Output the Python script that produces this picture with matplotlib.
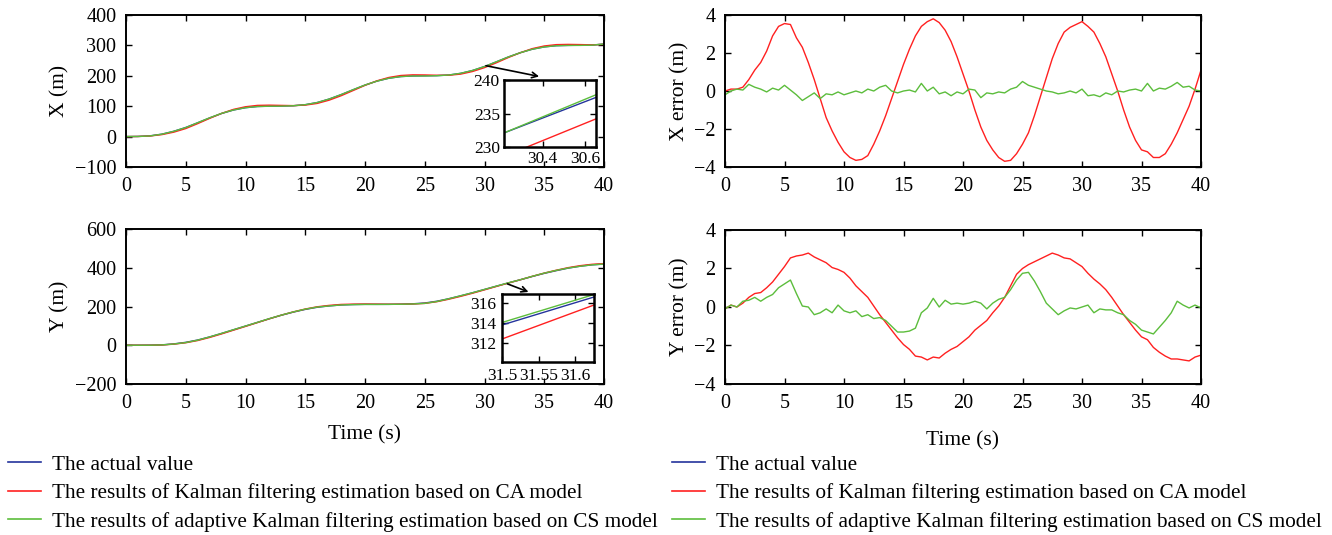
import numpy as np
import matplotlib.pyplot as plt

plt.rcParams['font.family'] = ['Liberation Serif', 'DejaVu Serif']

# time grids (s)
t1 = np.arange(0, 41, 1.0)
t05 = np.arange(0, 40.5, 0.5)

# actual trajectory, read at 1 s steps
x_actual = [0, 0.5, 2.5, 8, 17.5, 30, 45.5, 61.5, 76, 87.5, 95, 99, 100, 100.5,
            101.5, 105, 112, 123.5, 138, 154, 169.5, 182.5, 192, 197.5, 199.5,
            200, 200.5, 202.5, 208, 217.5, 230.5, 246, 262, 276, 287.5, 295,
            299, 300, 300.5, 301, 304.5]
y_actual = [0, 0, 0.5, 2, 7, 15, 27, 43, 61, 80, 99, 118, 137, 155, 171, 185,
            196, 203, 208, 210, 211, 211, 211, 212, 214, 218, 227, 240, 255,
            271, 288, 305, 322, 338, 355, 371, 385, 398, 408, 415, 419]

# estimation errors (actual - estimate), read at 0.5 s steps
x_err_ca = [0.0, 0.1, 0.1, 0.2, 0.6, 1.1, 1.5, 2.1, 2.9, 3.4, 3.55, 3.5, 2.8,
            2.3, 1.5, 0.6, -0.4, -1.4, -2.1, -2.7, -3.2, -3.5, -3.65, -3.6,
            -3.4, -2.8, -2.1, -1.3, -0.4, 0.5, 1.4, 2.2, 2.9, 3.4, 3.65, 3.8,
            3.6, 3.2, 2.6, 1.8, 0.9, 0.0, -1.0, -1.9, -2.6, -3.1, -3.5, -3.7,
            -3.65, -3.3, -2.8, -2.2, -1.3, -0.3, 0.7, 1.7, 2.5, 3.1, 3.35, 3.5,
            3.65, 3.4, 3.1, 2.5, 1.8, 0.9, 0.0, -1.0, -1.9, -2.6, -3.1, -3.2,
            -3.5, -3.5, -3.3, -2.8, -2.2, -1.5, -0.8, 0.1, 1.1]
x_err_cs = [-0.2, 0.0, 0.1, 0.05, 0.35, 0.2, 0.1, -0.05, 0.15, 0.05, 0.3, 0.05,
            -0.2, -0.5, -0.3, -0.1, -0.4, -0.15, -0.2, -0.05, -0.2, -0.1, 0.0,
            -0.1, 0.1, 0.0, 0.2, 0.3, 0.0, -0.1, 0.0, 0.05, -0.05, 0.4, 0.0,
            0.2, -0.15, -0.05, -0.25, -0.05, -0.15, 0.1, 0.05, -0.35, -0.1,
            -0.15, -0.05, -0.1, 0.1, 0.2, 0.5, 0.3, 0.2, 0.1, 0.0, -0.05,
            -0.15, -0.1, 0.0, -0.1, 0.1, -0.25, -0.2, -0.3, -0.1, -0.2, 0.0,
            -0.05, 0.05, 0.1, 0.0, 0.4, 0.0, 0.15, 0.1, 0.25, 0.45, 0.2, 0.25,
            0.05, 0.0]
y_err_ca = [-0.1, 0.1, 0.0, 0.2, 0.5, 0.7, 0.75, 1.0, 1.3, 1.7, 2.1, 2.55, 2.65,
            2.7, 2.8, 2.6, 2.45, 2.3, 2.05, 1.95, 1.8, 1.5, 1.1, 0.8, 0.5, 0.05,
            -0.4, -0.8, -1.2, -1.6, -1.95, -2.2, -2.55, -2.6, -2.75, -2.6,
            -2.65, -2.4, -2.2, -2.05, -1.8, -1.55, -1.2, -0.95, -0.7, -0.3,
            0.05, 0.5, 1.1, 1.7, 2.0, 2.2, 2.35, 2.5, 2.65, 2.8, 2.7, 2.55,
            2.5, 2.3, 2.1, 1.75, 1.45, 1.2, 0.9, 0.5, 0.05, -0.4, -0.8, -1.2,
            -1.55, -1.7, -2.1, -2.35, -2.55, -2.7, -2.7, -2.75, -2.8, -2.6, -2.5]
y_err_cs = [-0.1, 0.1, 0.0, 0.3, 0.35, 0.5, 0.3, 0.5, 0.65, 1.0, 1.2, 1.4, 0.7,
            0.05, 0.0, -0.4, -0.3, -0.1, -0.3, 0.1, -0.2, -0.3, -0.2, -0.5,
            -0.4, -0.6, -0.55, -0.7, -1.0, -1.3, -1.3, -1.25, -1.1, -0.3, -0.05,
            0.45, 0.0, 0.35, 0.15, 0.2, 0.15, 0.2, 0.3, 0.2, -0.1, 0.2, 0.4,
            0.5, 0.9, 1.4, 1.75, 1.8, 1.35, 0.8, 0.2, -0.1, -0.4, -0.2, -0.05,
            -0.1, 0.0, 0.1, -0.3, -0.1, -0.15, -0.15, -0.3, -0.4, -0.7, -0.9,
            -1.2, -1.3, -1.4, -1.05, -0.7, -0.3, 0.3, 0.1, -0.05, 0.1, -0.05]

# zoomed-in insets
xin_t = [30.22, 30.65]
xin_actual = [232.1, 237.4]
xin_ca = [228.6, 234.2]
xin_cs = [232.1, 237.8]
yin_t = [31.5, 31.626]
yin_actual = [313.8, 316.6]
yin_ca = [312.4, 315.8]
yin_cs = [314.05, 316.85]

labels = ['The actual value',
          'The results of Kalman filtering estimation based on CA model',
          'The results of adaptive Kalman filtering estimation based on CS model']
c_blue, c_red, c_green = '#24349c', '#ff2020', '#5cbd3c'

# estimates = actual - error, on the 1 s grid
x_ca = np.array(x_actual) - np.array(x_err_ca)[::2]
x_cs = np.array(x_actual) - np.array(x_err_cs)[::2]
y_ca = np.array(y_actual) - np.array(y_err_ca)[::2]
y_cs = np.array(y_actual) - np.array(y_err_cs)[::2]

fig = plt.figure(figsize=(13.32, 5.35), dpi=100)
W, H = 1332., 535.


def add_ax(x0, y0, x1, y1):
    return fig.add_axes([x0 / W, 1 - y1 / H, (x1 - x0) / W, (y1 - y0) / H])


def style(ax, size=14.5, pad=7):
    ax.tick_params(direction='in', top=True, right=True, labelsize=size,
                   length=4, width=1, pad=pad)
    for s in ax.spines.values():
        s.set_linewidth(1.4)


ax1 = add_ax(126, 15, 604, 167)
ax2 = add_ax(126, 229, 604, 384)
ax3 = add_ax(725, 15, 1201, 167)
ax4 = add_ax(725, 230, 1201, 384)

lw = 1.0
ax1.plot(t1, x_actual, color=c_blue, lw=lw)
ax1.plot(t1, x_ca, color=c_red, lw=lw)
ax1.plot(t1, x_cs, color=c_green, lw=lw)
ax1.set_ylim(-100, 400)
ax1.set_yticks([-100, 0, 100, 200, 300, 400])
ax1.set_yticklabels(['\u2212100', '0', '100', '200', '300', '400'])
ax1.set_ylabel('X (m)', fontsize=15.5, labelpad=4)

ax2.plot(t1, y_actual, color=c_blue, lw=lw)
ax2.plot(t1, y_ca, color=c_red, lw=lw)
ax2.plot(t1, y_cs, color=c_green, lw=lw)
ax2.set_ylim(-200, 600)
ax2.set_yticks([-200, 0, 200, 400, 600])
ax2.set_yticklabels(['\u2212200', '0', '200', '400', '600'])
ax2.set_ylabel('Y (m)', fontsize=15.5, labelpad=4)

ax3.plot(t05, x_err_ca, color=c_red, lw=lw)
ax3.plot(t05, x_err_cs, color=c_green, lw=lw)
ax3.set_ylabel('X error (m)', fontsize=15.5, labelpad=3)

ax4.plot(t05, y_err_ca, color=c_red, lw=lw)
ax4.plot(t05, y_err_cs, color=c_green, lw=lw)
ax4.set_ylabel('Y error (m)', fontsize=15.5, labelpad=3)

for ax in (ax3, ax4):
    ax.set_ylim(-4, 4)
    ax.set_yticks([-4, -2, 0, 2, 4])
    ax.set_yticklabels(['\u22124', '\u22122', '0', '2', '4'])

for ax in (ax1, ax2, ax3, ax4):
    ax.set_xlim(0, 40)
    ax.set_xticks(range(0, 41, 5))
    style(ax)
ax2.set_xlabel('Time (s)', fontsize=15.5, labelpad=9)
ax4.set_xlabel('Time (s)', fontsize=15.5, labelpad=13)

# arrows pointing to the insets
ax1.annotate('', xy=(34.8, 196), xytext=(29.9, 235),
             arrowprops=dict(arrowstyle='->', color='black', lw=1.2))
ax2.annotate('', xy=(33.9, 270), xytext=(31.7, 322),
             arrowprops=dict(arrowstyle='->', color='black', lw=1.2))

in1 = add_ax(504, 80, 596, 147)
in1.plot(xin_t, xin_actual, color=c_blue, lw=lw)
in1.plot(xin_t, xin_ca, color=c_red, lw=lw)
in1.plot(xin_t, xin_cs, color=c_green, lw=lw)
in1.set_xlim(30.22, 30.65)
in1.set_ylim(230, 240)
in1.set_xticks([30.4, 30.6])
in1.set_yticks([230, 235, 240])
style(in1, size=12.5, pad=3)
for s in in1.spines.values():
    s.set_linewidth(1.8)

in2 = add_ax(502, 294, 594, 362)
in2.plot(yin_t, yin_actual, color=c_blue, lw=lw)
in2.plot(yin_t, yin_ca, color=c_red, lw=lw)
in2.plot(yin_t, yin_cs, color=c_green, lw=lw)
in2.set_xlim(31.5, 31.626)
in2.set_ylim(310.1, 316.9)
in2.set_xticks([31.5, 31.55, 31.6])
in2.set_xticklabels(['31.5', '31.55', '31.6'])
in2.set_yticks([312, 314, 316])
style(in2, size=12.5, pad=4)
for s in in2.spines.values():
    s.set_linewidth(1.8)

# legends below each column
handles = [plt.Line2D([], [], color=c, lw=1.2) for c in (c_blue, c_red, c_green)]
for xa in (8, 672):
    fig.legend(handles, labels, loc='upper left',
               bbox_to_anchor=(xa / W, 1 - 455 / H), frameon=False,
               fontsize=15.3, borderpad=0, borderaxespad=0, handlelength=1.55,
               handletextpad=0.5, labelspacing=0.4)

fig.savefig('out.png', dpi=100)
